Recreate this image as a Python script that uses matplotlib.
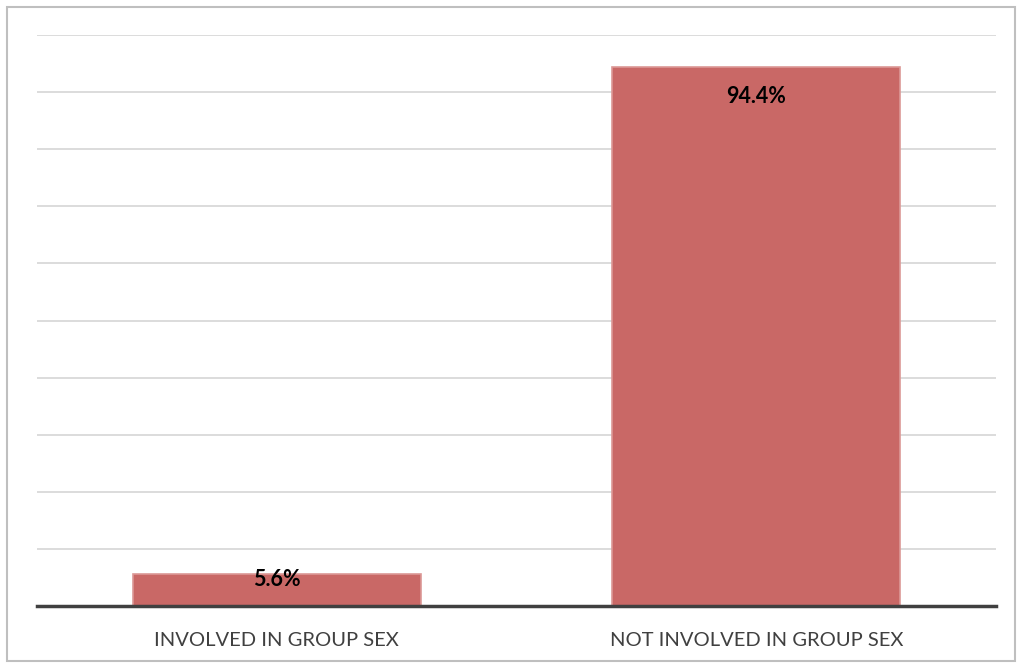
import matplotlib.pyplot as plt
from matplotlib.patches import Rectangle

categories = ['INVOLVED IN GROUP SEX', 'NOT INVOLVED IN GROUP SEX']
percent = [5.6, 94.4]
label_offsets = [-4, -21]  # points below bar top

plt.rcParams['font.family'] = ['Lato', 'DejaVu Sans']

fig = plt.figure(figsize=(10.17, 6.64), dpi=100)
ax = fig.add_axes([37 / 1017, 58 / 664, 959 / 1017, 571 / 664])

bars = ax.bar(range(len(categories)), percent, width=0.6,
              color='#c96866', edgecolor='#dc9896', linewidth=1.2, zorder=3)

for i, v in enumerate(percent):
    ax.annotate(f'{v}%', (i, v), xytext=(0, label_offsets[i]), textcoords='offset points',
                ha='center', va='center', fontsize=15.5, fontweight='bold',
                color='black', zorder=4)

ax.set_xlim(-0.5, 1.5)
ax.set_ylim(0, 100)
ax.set_yticks(range(0, 101, 10))
ax.yaxis.grid(True, color='#d9d9d9', linewidth=1.3, zorder=0)
ax.tick_params(axis='y', left=False, labelleft=False)
ax.set_xticks(range(len(categories)))
ax.set_xticklabels(categories, fontsize=14.5, color='#404040')
ax.tick_params(axis='x', length=0, pad=19)

for s in ['top', 'right', 'left']:
    ax.spines[s].set_visible(False)
ax.spines['bottom'].set_color('#404040')
ax.spines['bottom'].set_linewidth(2.5)
ax.spines['bottom'].set_zorder(5)

fig.patches.append(Rectangle((7 / 1017, 3 / 664), 1008 / 1017, 654 / 664,
                             transform=fig.transFigure, fill=False,
                             edgecolor='#bfbfbf', linewidth=1.5))

fig.savefig('out.png', dpi=100)
